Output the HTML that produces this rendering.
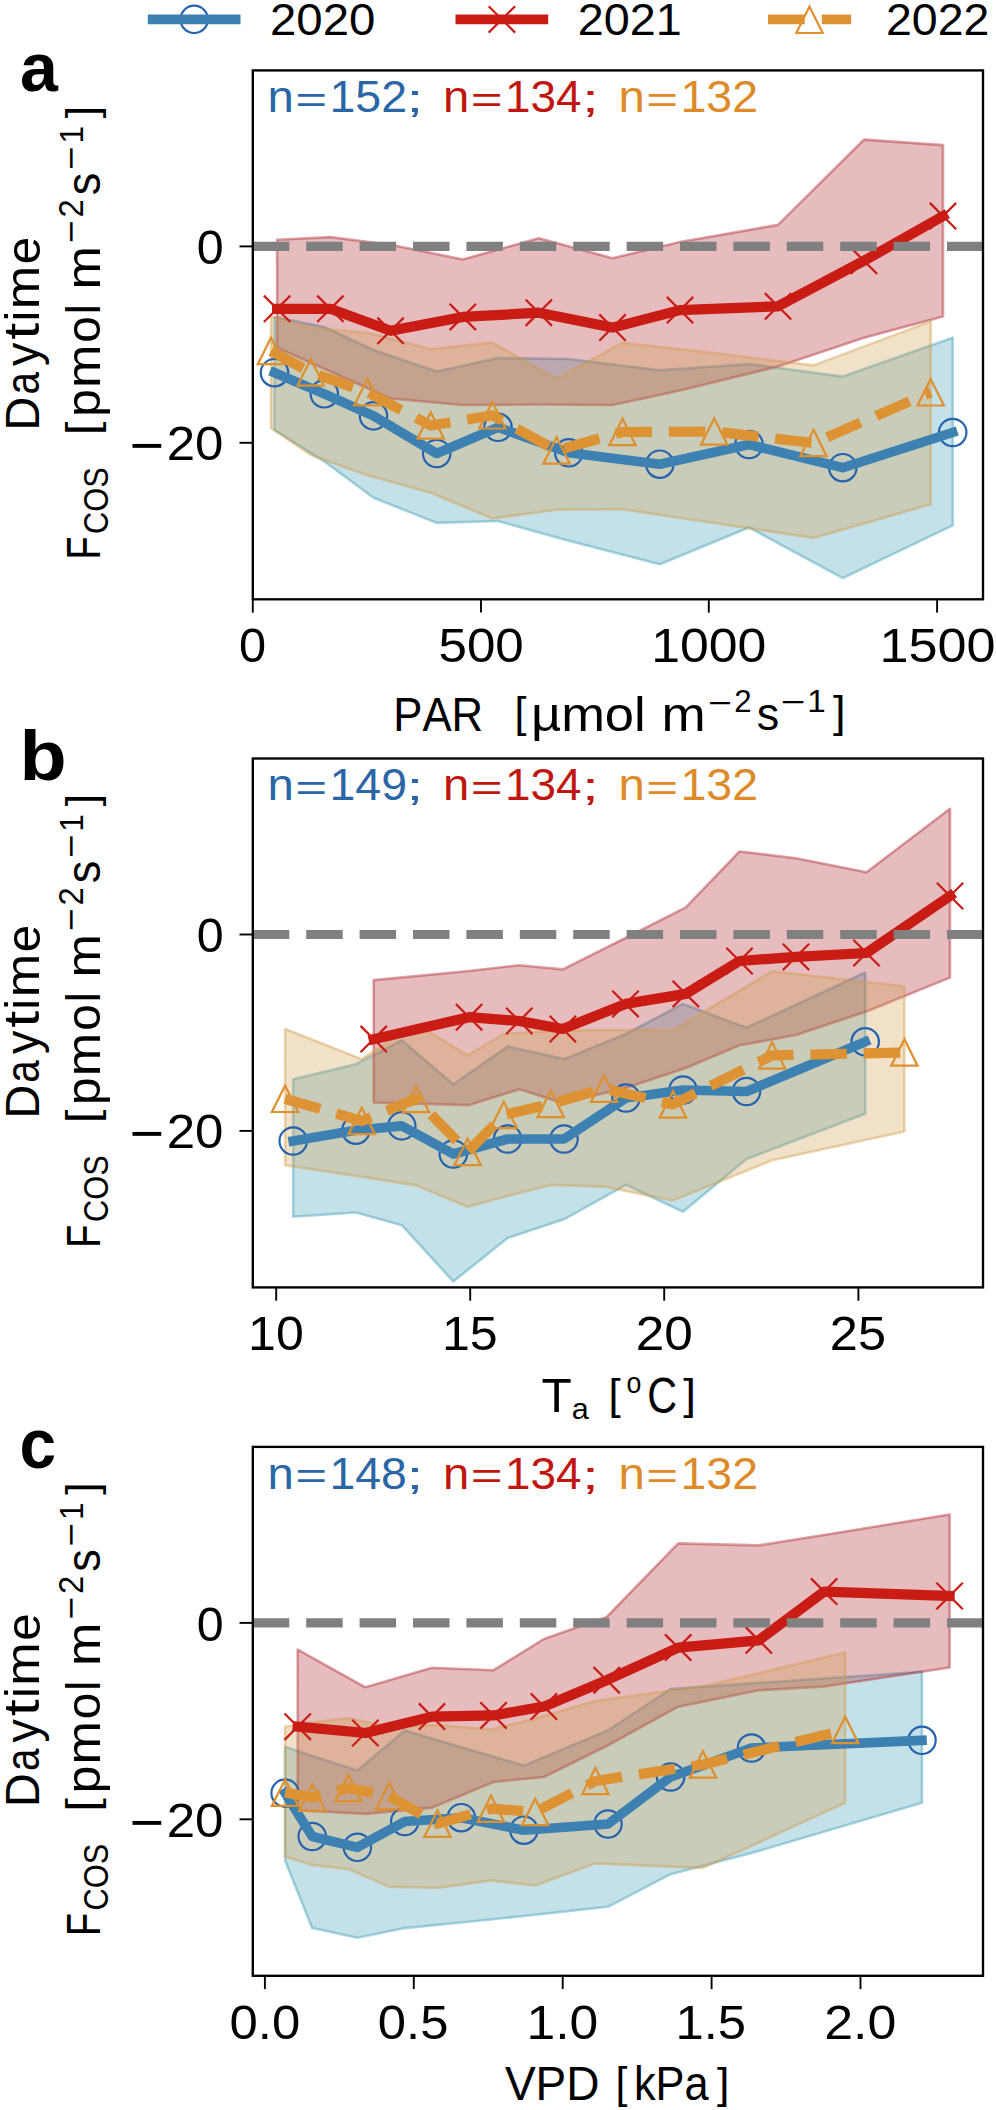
<!DOCTYPE html><html><head><meta charset="utf-8"><style>html,body{margin:0;padding:0;background:#fff;}svg{display:block;}text{font-family:"Liberation Sans",sans-serif;font-kerning:none;}</style></head><body>
<svg width="996" height="2110" viewBox="0 0 996 2110">
<rect width="996" height="2110" fill="#fff"/>
<g>
<circle cx="194.2" cy="19.4" r="13.7" fill="none" stroke="#2563ae" stroke-width="2.2"/>
<line x1="152.6" y1="19.4" x2="235.7" y2="19.4" stroke="#3d80b2" stroke-width="9.6" stroke-linecap="square"/>
<path d="M488.7 6.2L515.1 32.6M488.7 32.6L515.1 6.2" stroke="#c81c14" stroke-width="2.2" fill="none"/>
<line x1="460.3" y1="19.4" x2="543.4" y2="19.4" stroke="#c81c14" stroke-width="9.6" stroke-linecap="square"/>
<path d="M809.5 6.6L796.3 33.0L822.7 33.0Z" stroke="#df8f2c" stroke-width="2.2" fill="none" stroke-linejoin="miter"/>
<line x1="768.0" y1="19.4" x2="851.1" y2="19.4" stroke="#dd9334" stroke-width="9.6" stroke-dasharray="36.7 17.1"/>
<text transform="translate(270.02 34.56) scale(0.4739 0.4477)" font-size="100.0" font-weight="normal" fill="#000">2020</text>
<text transform="translate(577.85 34.56) scale(0.4677 0.4477)" font-size="100.0" font-weight="normal" fill="#000">2021</text>
<text transform="translate(885.96 34.56) scale(0.4652 0.4477)" font-size="100.0" font-weight="normal" fill="#000">2022</text>
<text transform="translate(19.91 91.32) scale(0.6808 0.6918)" font-size="100.0" font-weight="bold" fill="#000">a</text>
<text transform="translate(19.51 779.51) scale(0.7720 0.7040)" font-size="100.0" font-weight="bold" fill="#000">b</text>
<text transform="translate(19.53 1468.02) scale(0.6581 0.6954)" font-size="100.0" font-weight="bold" fill="#000">c</text>
<clipPath id="clipa"><rect x="252.8" y="70.4" width="730.2" height="528.9"/></clipPath>
<g clip-path="url(#clipa)">
<polygon points="274.5,317.0 324.3,327.0 373.5,350.0 436.7,371.6 498.0,358.0 568.8,359.0 659.8,370.3 749.0,364.0 842.8,376.6 952.7,337.7 952.7,525.4 842.8,578.1 749.0,527.5 659.8,564.3 568.8,540.7 498.0,521.0 436.7,522.9 373.5,497.8 324.3,461.4 274.5,430.0" fill="#3a9bb6" fill-opacity="0.30" stroke="#3a9bb6" stroke-opacity="0.42" stroke-width="2.6" stroke-linejoin="round"/>
<polygon points="277.1,239.7 330.4,237.1 390.6,244.7 462.8,259.5 538.8,238.2 612.5,258.2 680.0,242.0 778.0,224.9 864.0,139.6 943.0,145.1 943.0,316.4 864.0,337.7 778.0,366.5 680.0,390.6 612.5,405.0 538.8,404.5 462.8,405.0 390.6,398.5 330.4,371.5 277.1,347.8" fill="#ac202a" fill-opacity="0.30" stroke="#ac202a" stroke-opacity="0.42" stroke-width="2.6" stroke-linejoin="round"/>
<polygon points="271.0,316.0 310.8,327.7 367.4,332.7 430.7,349.0 492.4,342.6 556.6,379.0 622.5,342.7 714.2,353.0 813.5,365.4 930.7,321.4 930.7,504.3 813.5,537.9 714.2,523.0 622.5,509.1 556.6,509.8 492.4,518.5 430.7,492.8 367.4,475.2 310.8,455.0 271.0,428.0" fill="#d29b48" fill-opacity="0.30" stroke="#d29b48" stroke-opacity="0.42" stroke-width="2.6" stroke-linejoin="round"/>
<circle cx="274.5" cy="372.7" r="13.7" fill="none" stroke="#2563ae" stroke-width="2.2"/>
<circle cx="324.3" cy="393.8" r="13.7" fill="none" stroke="#2563ae" stroke-width="2.2"/>
<circle cx="373.5" cy="415.9" r="13.7" fill="none" stroke="#2563ae" stroke-width="2.2"/>
<circle cx="436.7" cy="453.5" r="13.7" fill="none" stroke="#2563ae" stroke-width="2.2"/>
<circle cx="498.0" cy="427.3" r="13.7" fill="none" stroke="#2563ae" stroke-width="2.2"/>
<circle cx="568.8" cy="452.8" r="13.7" fill="none" stroke="#2563ae" stroke-width="2.2"/>
<circle cx="659.8" cy="464.2" r="13.7" fill="none" stroke="#2563ae" stroke-width="2.2"/>
<circle cx="749.0" cy="444.5" r="13.7" fill="none" stroke="#2563ae" stroke-width="2.2"/>
<circle cx="842.8" cy="467.7" r="13.7" fill="none" stroke="#2563ae" stroke-width="2.2"/>
<circle cx="952.7" cy="432.5" r="13.7" fill="none" stroke="#2563ae" stroke-width="2.2"/>
<polyline points="274.5,372.7 324.3,393.8 373.5,415.9 436.7,453.5 498.0,427.3 568.8,452.8 659.8,464.2 749.0,444.5 842.8,467.7 952.7,432.5" fill="none" stroke="#3d80b2" stroke-width="9.6" stroke-linecap="square" stroke-linejoin="round"/>
<path d="M263.9 295.6L290.3 322.0M263.9 322.0L290.3 295.6" stroke="#c81c14" stroke-width="2.2" fill="none"/>
<path d="M317.2 295.6L343.6 322.0M317.2 322.0L343.6 295.6" stroke="#c81c14" stroke-width="2.2" fill="none"/>
<path d="M377.4 317.6L403.8 344.0M377.4 344.0L403.8 317.6" stroke="#c81c14" stroke-width="2.2" fill="none"/>
<path d="M449.6 303.7L476.0 330.1M449.6 330.1L476.0 303.7" stroke="#c81c14" stroke-width="2.2" fill="none"/>
<path d="M525.6 299.5L552.0 325.9M525.6 325.9L552.0 299.5" stroke="#c81c14" stroke-width="2.2" fill="none"/>
<path d="M599.3 314.4L625.7 340.8M599.3 340.8L625.7 314.4" stroke="#c81c14" stroke-width="2.2" fill="none"/>
<path d="M666.8 296.9L693.2 323.3M666.8 323.3L693.2 296.9" stroke="#c81c14" stroke-width="2.2" fill="none"/>
<path d="M764.8 293.1L791.2 319.5M764.8 319.5L791.2 293.1" stroke="#c81c14" stroke-width="2.2" fill="none"/>
<path d="M850.8 247.6L877.2 274.0M850.8 274.0L877.2 247.6" stroke="#c81c14" stroke-width="2.2" fill="none"/>
<path d="M929.8 202.9L956.2 229.3M929.8 229.3L956.2 202.9" stroke="#c81c14" stroke-width="2.2" fill="none"/>
<polyline points="277.1,308.8 330.4,308.8 390.6,330.8 462.8,316.9 538.8,312.7 612.5,327.6 680.0,310.1 778.0,306.3 864.0,260.8 943.0,216.1" fill="none" stroke="#c81c14" stroke-width="10.2" stroke-linecap="square" stroke-linejoin="round"/>
<path d="M271.0 337.8L257.8 364.2L284.2 364.2Z" stroke="#df8f2c" stroke-width="2.2" fill="none" stroke-linejoin="miter"/>
<path d="M310.8 359.2L297.6 385.6L324.0 385.6Z" stroke="#df8f2c" stroke-width="2.2" fill="none" stroke-linejoin="miter"/>
<path d="M367.4 379.0L354.2 405.4L380.6 405.4Z" stroke="#df8f2c" stroke-width="2.2" fill="none" stroke-linejoin="miter"/>
<path d="M430.7 412.3L417.5 438.7L443.9 438.7Z" stroke="#df8f2c" stroke-width="2.2" fill="none" stroke-linejoin="miter"/>
<path d="M492.4 402.1L479.2 428.5L505.6 428.5Z" stroke="#df8f2c" stroke-width="2.2" fill="none" stroke-linejoin="miter"/>
<path d="M556.6 437.3L543.4 463.7L569.8 463.7Z" stroke="#df8f2c" stroke-width="2.2" fill="none" stroke-linejoin="miter"/>
<path d="M622.5 418.8L609.3 445.2L635.7 445.2Z" stroke="#df8f2c" stroke-width="2.2" fill="none" stroke-linejoin="miter"/>
<path d="M714.2 418.3L701.0 444.7L727.4 444.7Z" stroke="#df8f2c" stroke-width="2.2" fill="none" stroke-linejoin="miter"/>
<path d="M813.5 429.8L800.3 456.2L826.7 456.2Z" stroke="#df8f2c" stroke-width="2.2" fill="none" stroke-linejoin="miter"/>
<path d="M930.7 379.1L917.5 405.5L943.9 405.5Z" stroke="#df8f2c" stroke-width="2.2" fill="none" stroke-linejoin="miter"/>
<polyline points="271.0,351.0 310.8,372.4 367.4,392.2 430.7,425.5 492.4,415.3 556.6,450.5 622.5,432.0 714.2,431.5 813.5,443.0 930.7,392.3" fill="none" stroke="#dd9334" stroke-width="10.2" stroke-dasharray="36.5 16.9" stroke-linecap="butt" stroke-linejoin="round"/>
<line x1="252.8" y1="246.40" x2="983.0" y2="246.40" stroke="#808080" stroke-width="9.2" stroke-dasharray="36.5 16.9"/>
</g>
<rect x="252.8" y="70.4" width="730.2" height="528.9" fill="none" stroke="#000" stroke-width="2.35"/>
<line x1="239.5" y1="246.40" x2="252.8" y2="246.40" stroke="#000" stroke-width="1.90"/>
<line x1="239.5" y1="442.80" x2="252.8" y2="442.80" stroke="#000" stroke-width="1.90"/>
<text transform="translate(196.71 264.23) scale(0.4832 0.4816)" font-size="100.0" font-weight="normal" fill="#000">0</text>
<text transform="translate(129.68 464.14) scale(0.5928 0.5471)" font-size="100.0" font-weight="normal" fill="#000">−</text>
<text transform="translate(166.73 460.33) scale(0.5103 0.4788)" font-size="100.0" font-weight="normal" fill="#000">20</text>
<text transform="translate(38.90 430.42) rotate(-90) scale(0.4660 0.4811)" font-size="100.0" font-weight="normal" fill="#000">D</text>
<text transform="translate(39.34 394.61) rotate(-90) scale(0.4030 0.4746)" font-size="100.0" font-weight="normal" fill="#000">a</text>
<text transform="translate(38.79 366.01) rotate(-90) scale(0.4681 0.4729)" font-size="100.0" font-weight="normal" fill="#000">y</text>
<text transform="translate(38.81 339.72) rotate(-90) scale(0.6070 0.4937)" font-size="100.0" font-weight="normal" fill="#000">t</text>
<text transform="translate(39.20 321.60) rotate(-90) scale(0.4779 0.4872)" font-size="100.0" font-weight="normal" fill="#000">i</text>
<text transform="translate(39.20 309.16) rotate(-90) scale(0.5209 0.4720)" font-size="100.0" font-weight="normal" fill="#000">m</text>
<text transform="translate(39.53 264.20) rotate(-90) scale(0.4944 0.4782)" font-size="100.0" font-weight="normal" fill="#000">e</text>
<text transform="translate(99.80 559.60) rotate(-90) scale(0.3785 0.4840)" font-size="100.0" font-weight="normal" fill="#000">F</text>
<text transform="translate(108.26 533.96) rotate(-90) scale(0.3082 0.3517)" font-size="100.0" font-weight="normal" fill="#000">COS</text>
<text transform="translate(96.77 435.18) rotate(-90) scale(0.4881 0.4399)" font-size="100.0" font-weight="normal" fill="#000">[</text>
<text transform="translate(99.70 417.04) rotate(-90) scale(0.5025 0.4724)" font-size="100.0" font-weight="normal" fill="#000">p</text>
<text transform="translate(99.90 388.06) rotate(-90) scale(0.5209 0.4758)" font-size="100.0" font-weight="normal" fill="#000">m</text>
<text transform="translate(99.93 342.71) rotate(-90) scale(0.4786 0.4819)" font-size="100.0" font-weight="normal" fill="#000">o</text>
<text transform="translate(99.90 314.19) rotate(-90) scale(0.4437 0.4830)" font-size="100.0" font-weight="normal" fill="#000">l</text>
<text transform="translate(99.90 289.46) rotate(-90) scale(0.5209 0.4758)" font-size="100.0" font-weight="normal" fill="#000">m</text>
<text transform="translate(83.31 243.13) rotate(-90) scale(0.3911 0.3507)" font-size="100.0" font-weight="normal" fill="#000">−</text>
<text transform="translate(82.60 217.44) rotate(-90) scale(0.3271 0.3452)" font-size="100.0" font-weight="normal" fill="#000">2</text>
<text transform="translate(99.93 195.26) rotate(-90) scale(0.4518 0.4795)" font-size="100.0" font-weight="normal" fill="#000">s</text>
<text transform="translate(82.91 170.20) rotate(-90) scale(0.4055 0.3507)" font-size="100.0" font-weight="normal" fill="#000">−</text>
<text transform="translate(82.60 143.62) rotate(-90) scale(0.3178 0.3387)" font-size="100.0" font-weight="normal" fill="#000">1</text>
<text transform="translate(96.54 118.25) rotate(-90) scale(0.4478 0.4366)" font-size="100.0" font-weight="normal" fill="#000">]</text>
<text transform="translate(267.46 112.30) scale(0.4732 0.4386)" font-size="100.0" font-weight="normal" fill="#2a66a6">n</text>
<text transform="translate(295.24 111.55) scale(0.5454 0.3600)" font-size="100.0" font-weight="normal" fill="#2a66a6">=</text>
<text transform="translate(329.45 112.30) scale(1.0464 1)" font-size="44.50" font-weight="normal" fill="#2a66a6">152</text>
<text transform="translate(406.22 112.21) scale(0.6215 0.3901)" font-size="100.0" font-weight="normal" fill="#2a66a6">;</text>
<text transform="translate(442.96 112.30) scale(0.4732 0.4386)" font-size="100.0" font-weight="normal" fill="#c0160f">n</text>
<text transform="translate(470.74 111.55) scale(0.5454 0.3600)" font-size="100.0" font-weight="normal" fill="#c0160f">=</text>
<text transform="translate(505.00 112.30) scale(1.0323 1)" font-size="44.50" font-weight="normal" fill="#c0160f">134</text>
<text transform="translate(581.72 112.21) scale(0.6215 0.3901)" font-size="100.0" font-weight="normal" fill="#c0160f">;</text>
<text transform="translate(618.46 112.30) scale(0.4732 0.4386)" font-size="100.0" font-weight="normal" fill="#de8a28">n</text>
<text transform="translate(646.24 111.55) scale(0.5454 0.3600)" font-size="100.0" font-weight="normal" fill="#de8a28">=</text>
<text transform="translate(680.45 112.30) scale(1.0464 1)" font-size="44.50" font-weight="normal" fill="#de8a28">132</text>
<clipPath id="clipb"><rect x="252.8" y="758.5" width="730.2" height="528.9"/></clipPath>
<g clip-path="url(#clipb)">
<polygon points="293.2,1079.2 355.9,1064.2 401.8,1040.3 453.3,1084.2 507.6,1046.6 564.0,1059.1 626.0,1034.0 683.0,1003.9 746.5,1027.8 865.2,972.5 865.2,1113.8 746.5,1159.0 683.0,1211.7 626.0,1184.9 564.0,1219.3 507.6,1238.1 453.3,1281.5 401.8,1225.2 355.9,1212.5 293.2,1216.8" fill="#3a9bb6" fill-opacity="0.30" stroke="#3a9bb6" stroke-opacity="0.42" stroke-width="2.6" stroke-linejoin="round"/>
<polygon points="373.7,980.1 469.1,971.0 519.3,965.2 562.8,969.4 625.5,938.0 685.8,907.4 739.5,851.5 796.0,858.2 866.5,872.3 950.0,808.8 950.0,977.6 866.5,1011.5 796.0,1035.0 739.5,1045.3 685.8,1068.0 625.5,1088.0 562.8,1103.1 519.3,1089.3 469.1,1105.1 373.7,1102.5" fill="#ac202a" fill-opacity="0.30" stroke="#ac202a" stroke-opacity="0.42" stroke-width="2.6" stroke-linejoin="round"/>
<polygon points="285.1,1029.0 361.7,1059.1 416.0,1024.0 467.6,1055.4 503.8,1034.0 550.7,1031.0 604.2,1030.0 673.0,1030.3 772.1,971.3 904.4,986.4 904.4,1131.4 772.1,1160.3 673.0,1200.4 604.2,1186.6 550.7,1184.9 503.8,1197.0 467.6,1206.7 416.0,1185.4 361.7,1176.6 285.1,1165.3" fill="#d29b48" fill-opacity="0.30" stroke="#d29b48" stroke-opacity="0.42" stroke-width="2.6" stroke-linejoin="round"/>
<circle cx="293.2" cy="1141.0" r="13.7" fill="none" stroke="#2563ae" stroke-width="2.2"/>
<circle cx="355.9" cy="1130.2" r="13.7" fill="none" stroke="#2563ae" stroke-width="2.2"/>
<circle cx="401.8" cy="1125.9" r="13.7" fill="none" stroke="#2563ae" stroke-width="2.2"/>
<circle cx="453.3" cy="1154.0" r="13.7" fill="none" stroke="#2563ae" stroke-width="2.2"/>
<circle cx="507.6" cy="1139.0" r="13.7" fill="none" stroke="#2563ae" stroke-width="2.2"/>
<circle cx="564.0" cy="1139.0" r="13.7" fill="none" stroke="#2563ae" stroke-width="2.2"/>
<circle cx="626.0" cy="1098.0" r="13.7" fill="none" stroke="#2563ae" stroke-width="2.2"/>
<circle cx="683.0" cy="1090.0" r="13.7" fill="none" stroke="#2563ae" stroke-width="2.2"/>
<circle cx="746.5" cy="1091.5" r="13.7" fill="none" stroke="#2563ae" stroke-width="2.2"/>
<circle cx="865.2" cy="1041.8" r="13.7" fill="none" stroke="#2563ae" stroke-width="2.2"/>
<polyline points="293.2,1141.0 355.9,1130.2 401.8,1125.9 453.3,1154.0 507.6,1139.0 564.0,1139.0 626.0,1098.0 683.0,1090.0 746.5,1091.5 865.2,1041.8" fill="none" stroke="#3d80b2" stroke-width="9.6" stroke-linecap="square" stroke-linejoin="round"/>
<path d="M360.5 1025.9L386.9 1052.3M360.5 1052.3L386.9 1025.9" stroke="#c81c14" stroke-width="2.2" fill="none"/>
<path d="M455.9 1004.0L482.3 1030.4M455.9 1030.4L482.3 1004.0" stroke="#c81c14" stroke-width="2.2" fill="none"/>
<path d="M506.1 1007.8L532.5 1034.2M506.1 1034.2L532.5 1007.8" stroke="#c81c14" stroke-width="2.2" fill="none"/>
<path d="M549.6 1015.8L576.0 1042.2M549.6 1042.2L576.0 1015.8" stroke="#c81c14" stroke-width="2.2" fill="none"/>
<path d="M612.3 990.7L638.7 1017.1M612.3 1017.1L638.7 990.7" stroke="#c81c14" stroke-width="2.2" fill="none"/>
<path d="M672.6 980.7L699.0 1007.1M672.6 1007.1L699.0 980.7" stroke="#c81c14" stroke-width="2.2" fill="none"/>
<path d="M726.3 947.8L752.7 974.2M726.3 974.2L752.7 947.8" stroke="#c81c14" stroke-width="2.2" fill="none"/>
<path d="M782.8 943.7L809.2 970.1M782.8 970.1L809.2 943.7" stroke="#c81c14" stroke-width="2.2" fill="none"/>
<path d="M853.3 939.8L879.7 966.2M853.3 966.2L879.7 939.8" stroke="#c81c14" stroke-width="2.2" fill="none"/>
<path d="M936.8 882.8L963.2 909.2M936.8 909.2L963.2 882.8" stroke="#c81c14" stroke-width="2.2" fill="none"/>
<polyline points="373.7,1039.1 469.1,1017.2 519.3,1021.0 562.8,1029.0 625.5,1003.9 685.8,993.9 739.5,961.0 796.0,956.9 866.5,953.0 950.0,896.0" fill="none" stroke="#c81c14" stroke-width="10.2" stroke-linecap="square" stroke-linejoin="round"/>
<path d="M285.1 1085.6L271.9 1112.0L298.3 1112.0Z" stroke="#df8f2c" stroke-width="2.2" fill="none" stroke-linejoin="miter"/>
<path d="M361.7 1107.8L348.5 1134.2L374.9 1134.2Z" stroke="#df8f2c" stroke-width="2.2" fill="none" stroke-linejoin="miter"/>
<path d="M416.0 1085.8L402.8 1112.2L429.2 1112.2Z" stroke="#df8f2c" stroke-width="2.2" fill="none" stroke-linejoin="miter"/>
<path d="M467.6 1138.8L454.4 1165.2L480.8 1165.2Z" stroke="#df8f2c" stroke-width="2.2" fill="none" stroke-linejoin="miter"/>
<path d="M503.8 1101.8L490.6 1128.2L517.0 1128.2Z" stroke="#df8f2c" stroke-width="2.2" fill="none" stroke-linejoin="miter"/>
<path d="M550.7 1090.8L537.5 1117.2L563.9 1117.2Z" stroke="#df8f2c" stroke-width="2.2" fill="none" stroke-linejoin="miter"/>
<path d="M604.2 1075.4L591.0 1101.8L617.4 1101.8Z" stroke="#df8f2c" stroke-width="2.2" fill="none" stroke-linejoin="miter"/>
<path d="M673.0 1091.3L659.8 1117.7L686.2 1117.7Z" stroke="#df8f2c" stroke-width="2.2" fill="none" stroke-linejoin="miter"/>
<path d="M772.1 1042.2L758.9 1068.6L785.3 1068.6Z" stroke="#df8f2c" stroke-width="2.2" fill="none" stroke-linejoin="miter"/>
<path d="M904.4 1039.3L891.2 1065.7L917.6 1065.7Z" stroke="#df8f2c" stroke-width="2.2" fill="none" stroke-linejoin="miter"/>
<polyline points="285.1,1098.8 361.7,1121.0 416.0,1099.0 467.6,1152.0 503.8,1115.0 550.7,1104.0 604.2,1088.6 673.0,1104.5 772.1,1055.4 904.4,1052.5" fill="none" stroke="#dd9334" stroke-width="10.2" stroke-dasharray="36.5 16.9" stroke-linecap="butt" stroke-linejoin="round"/>
<line x1="252.8" y1="934.50" x2="983.0" y2="934.50" stroke="#808080" stroke-width="9.2" stroke-dasharray="36.5 16.9"/>
</g>
<rect x="252.8" y="758.5" width="730.2" height="528.9" fill="none" stroke="#000" stroke-width="2.35"/>
<line x1="239.5" y1="934.50" x2="252.8" y2="934.50" stroke="#000" stroke-width="1.90"/>
<line x1="239.5" y1="1130.90" x2="252.8" y2="1130.90" stroke="#000" stroke-width="1.90"/>
<text transform="translate(196.71 952.33) scale(0.4832 0.4816)" font-size="100.0" font-weight="normal" fill="#000">0</text>
<text transform="translate(129.68 1152.24) scale(0.5928 0.5471)" font-size="100.0" font-weight="normal" fill="#000">−</text>
<text transform="translate(166.73 1148.43) scale(0.5103 0.4788)" font-size="100.0" font-weight="normal" fill="#000">20</text>
<text transform="translate(38.90 1118.52) rotate(-90) scale(0.4660 0.4811)" font-size="100.0" font-weight="normal" fill="#000">D</text>
<text transform="translate(39.34 1082.71) rotate(-90) scale(0.4030 0.4746)" font-size="100.0" font-weight="normal" fill="#000">a</text>
<text transform="translate(38.79 1054.11) rotate(-90) scale(0.4681 0.4729)" font-size="100.0" font-weight="normal" fill="#000">y</text>
<text transform="translate(38.81 1027.82) rotate(-90) scale(0.6070 0.4937)" font-size="100.0" font-weight="normal" fill="#000">t</text>
<text transform="translate(39.20 1009.70) rotate(-90) scale(0.4779 0.4872)" font-size="100.0" font-weight="normal" fill="#000">i</text>
<text transform="translate(39.20 997.26) rotate(-90) scale(0.5209 0.4720)" font-size="100.0" font-weight="normal" fill="#000">m</text>
<text transform="translate(39.53 952.30) rotate(-90) scale(0.4944 0.4782)" font-size="100.0" font-weight="normal" fill="#000">e</text>
<text transform="translate(99.80 1247.70) rotate(-90) scale(0.3785 0.4840)" font-size="100.0" font-weight="normal" fill="#000">F</text>
<text transform="translate(108.26 1222.06) rotate(-90) scale(0.3082 0.3517)" font-size="100.0" font-weight="normal" fill="#000">COS</text>
<text transform="translate(96.77 1123.28) rotate(-90) scale(0.4881 0.4399)" font-size="100.0" font-weight="normal" fill="#000">[</text>
<text transform="translate(99.70 1105.14) rotate(-90) scale(0.5025 0.4724)" font-size="100.0" font-weight="normal" fill="#000">p</text>
<text transform="translate(99.90 1076.16) rotate(-90) scale(0.5209 0.4758)" font-size="100.0" font-weight="normal" fill="#000">m</text>
<text transform="translate(99.93 1030.81) rotate(-90) scale(0.4786 0.4819)" font-size="100.0" font-weight="normal" fill="#000">o</text>
<text transform="translate(99.90 1002.29) rotate(-90) scale(0.4437 0.4830)" font-size="100.0" font-weight="normal" fill="#000">l</text>
<text transform="translate(99.90 977.56) rotate(-90) scale(0.5209 0.4758)" font-size="100.0" font-weight="normal" fill="#000">m</text>
<text transform="translate(83.31 931.23) rotate(-90) scale(0.3911 0.3507)" font-size="100.0" font-weight="normal" fill="#000">−</text>
<text transform="translate(82.60 905.54) rotate(-90) scale(0.3271 0.3452)" font-size="100.0" font-weight="normal" fill="#000">2</text>
<text transform="translate(99.93 883.36) rotate(-90) scale(0.4518 0.4795)" font-size="100.0" font-weight="normal" fill="#000">s</text>
<text transform="translate(82.91 858.30) rotate(-90) scale(0.4055 0.3507)" font-size="100.0" font-weight="normal" fill="#000">−</text>
<text transform="translate(82.60 831.72) rotate(-90) scale(0.3178 0.3387)" font-size="100.0" font-weight="normal" fill="#000">1</text>
<text transform="translate(96.54 806.35) rotate(-90) scale(0.4478 0.4366)" font-size="100.0" font-weight="normal" fill="#000">]</text>
<text transform="translate(267.46 800.40) scale(0.4732 0.4386)" font-size="100.0" font-weight="normal" fill="#2a66a6">n</text>
<text transform="translate(295.24 799.65) scale(0.5454 0.3600)" font-size="100.0" font-weight="normal" fill="#2a66a6">=</text>
<text transform="translate(329.46 800.40) scale(1.0444 1)" font-size="44.50" font-weight="normal" fill="#2a66a6">149</text>
<text transform="translate(406.22 800.31) scale(0.6215 0.3901)" font-size="100.0" font-weight="normal" fill="#2a66a6">;</text>
<text transform="translate(442.96 800.40) scale(0.4732 0.4386)" font-size="100.0" font-weight="normal" fill="#c0160f">n</text>
<text transform="translate(470.74 799.65) scale(0.5454 0.3600)" font-size="100.0" font-weight="normal" fill="#c0160f">=</text>
<text transform="translate(505.00 800.40) scale(1.0323 1)" font-size="44.50" font-weight="normal" fill="#c0160f">134</text>
<text transform="translate(581.72 800.31) scale(0.6215 0.3901)" font-size="100.0" font-weight="normal" fill="#c0160f">;</text>
<text transform="translate(618.46 800.40) scale(0.4732 0.4386)" font-size="100.0" font-weight="normal" fill="#de8a28">n</text>
<text transform="translate(646.24 799.65) scale(0.5454 0.3600)" font-size="100.0" font-weight="normal" fill="#de8a28">=</text>
<text transform="translate(680.45 800.40) scale(1.0464 1)" font-size="44.50" font-weight="normal" fill="#de8a28">132</text>
<clipPath id="clipc"><rect x="252.8" y="1446.9" width="730.2" height="528.9"/></clipPath>
<g clip-path="url(#clipc)">
<polygon points="285.1,1746.8 312.2,1756.0 357.4,1770.6 404.8,1730.4 461.3,1747.3 523.9,1765.6 608.0,1730.4 670.6,1689.0 751.5,1683.4 922.0,1671.7 922.0,1802.8 751.5,1853.1 670.6,1874.2 608.0,1906.8 523.9,1916.0 461.3,1922.5 404.8,1928.1 357.4,1937.7 312.2,1928.1 285.1,1860.4" fill="#3a9bb6" fill-opacity="0.30" stroke="#3a9bb6" stroke-opacity="0.42" stroke-width="2.6" stroke-linejoin="round"/>
<polygon points="297.7,1649.6 365.4,1687.3 432.0,1667.7 493.5,1670.2 543.9,1639.0 606.7,1617.0 678.2,1543.4 758.8,1545.4 824.1,1535.0 949.6,1514.5 949.6,1667.5 824.1,1686.5 758.8,1690.3 678.2,1706.7 606.7,1746.0 543.9,1777.0 493.5,1782.0 432.0,1807.6 365.4,1813.9 297.7,1810.2" fill="#ac202a" fill-opacity="0.30" stroke="#ac202a" stroke-opacity="0.42" stroke-width="2.6" stroke-linejoin="round"/>
<polygon points="285.1,1726.7 312.2,1722.5 348.4,1718.0 389.3,1727.0 437.5,1725.0 491.0,1729.5 535.2,1718.6 595.4,1700.8 703.0,1686.4 845.2,1652.6 845.2,1802.8 703.0,1867.9 595.4,1863.4 535.2,1885.5 491.0,1880.4 437.5,1888.0 389.3,1886.7 348.4,1869.1 312.2,1864.9 285.1,1856.6" fill="#d29b48" fill-opacity="0.30" stroke="#d29b48" stroke-opacity="0.42" stroke-width="2.6" stroke-linejoin="round"/>
<circle cx="285.1" cy="1793.1" r="13.7" fill="none" stroke="#2563ae" stroke-width="2.2"/>
<circle cx="312.2" cy="1836.5" r="13.7" fill="none" stroke="#2563ae" stroke-width="2.2"/>
<circle cx="357.4" cy="1847.3" r="13.7" fill="none" stroke="#2563ae" stroke-width="2.2"/>
<circle cx="404.8" cy="1821.5" r="13.7" fill="none" stroke="#2563ae" stroke-width="2.2"/>
<circle cx="461.3" cy="1817.7" r="13.7" fill="none" stroke="#2563ae" stroke-width="2.2"/>
<circle cx="523.9" cy="1830.2" r="13.7" fill="none" stroke="#2563ae" stroke-width="2.2"/>
<circle cx="608.0" cy="1824.0" r="13.7" fill="none" stroke="#2563ae" stroke-width="2.2"/>
<circle cx="670.6" cy="1777.0" r="13.7" fill="none" stroke="#2563ae" stroke-width="2.2"/>
<circle cx="751.5" cy="1748.0" r="13.7" fill="none" stroke="#2563ae" stroke-width="2.2"/>
<circle cx="922.0" cy="1740.3" r="13.7" fill="none" stroke="#2563ae" stroke-width="2.2"/>
<polyline points="285.1,1793.1 312.2,1836.5 357.4,1847.3 404.8,1821.5 461.3,1817.7 523.9,1830.2 608.0,1824.0 670.6,1777.0 751.5,1748.0 922.0,1740.3" fill="none" stroke="#3d80b2" stroke-width="9.6" stroke-linecap="square" stroke-linejoin="round"/>
<path d="M284.5 1713.5L310.9 1739.9M284.5 1739.9L310.9 1713.5" stroke="#c81c14" stroke-width="2.2" fill="none"/>
<path d="M352.2 1719.8L378.6 1746.2M352.2 1746.2L378.6 1719.8" stroke="#c81c14" stroke-width="2.2" fill="none"/>
<path d="M418.8 1703.4L445.2 1729.8M418.8 1729.8L445.2 1703.4" stroke="#c81c14" stroke-width="2.2" fill="none"/>
<path d="M480.3 1702.2L506.7 1728.6M480.3 1728.6L506.7 1702.2" stroke="#c81c14" stroke-width="2.2" fill="none"/>
<path d="M530.7 1693.4L557.1 1719.8M530.7 1719.8L557.1 1693.4" stroke="#c81c14" stroke-width="2.2" fill="none"/>
<path d="M593.5 1667.0L619.9 1693.4M593.5 1693.4L619.9 1667.0" stroke="#c81c14" stroke-width="2.2" fill="none"/>
<path d="M665.0 1634.4L691.4 1660.8M665.0 1660.8L691.4 1634.4" stroke="#c81c14" stroke-width="2.2" fill="none"/>
<path d="M745.6 1627.1L772.0 1653.5M745.6 1653.5L772.0 1627.1" stroke="#c81c14" stroke-width="2.2" fill="none"/>
<path d="M810.9 1578.4L837.3 1604.8M810.9 1604.8L837.3 1578.4" stroke="#c81c14" stroke-width="2.2" fill="none"/>
<path d="M936.4 1582.8L962.8 1609.2M936.4 1609.2L962.8 1582.8" stroke="#c81c14" stroke-width="2.2" fill="none"/>
<polyline points="297.7,1726.7 365.4,1733.0 432.0,1716.6 493.5,1715.4 543.9,1706.6 606.7,1680.2 678.2,1647.6 758.8,1640.3 824.1,1591.6 949.6,1596.0" fill="none" stroke="#c81c14" stroke-width="10.2" stroke-linecap="square" stroke-linejoin="round"/>
<path d="M285.1 1779.4L271.9 1805.8L298.3 1805.8Z" stroke="#df8f2c" stroke-width="2.2" fill="none" stroke-linejoin="miter"/>
<path d="M312.2 1784.4L299.0 1810.8L325.4 1810.8Z" stroke="#df8f2c" stroke-width="2.2" fill="none" stroke-linejoin="miter"/>
<path d="M348.4 1774.8L335.2 1801.2L361.6 1801.2Z" stroke="#df8f2c" stroke-width="2.2" fill="none" stroke-linejoin="miter"/>
<path d="M389.3 1782.9L376.1 1809.3L402.5 1809.3Z" stroke="#df8f2c" stroke-width="2.2" fill="none" stroke-linejoin="miter"/>
<path d="M437.5 1810.5L424.3 1836.9L450.7 1836.9Z" stroke="#df8f2c" stroke-width="2.2" fill="none" stroke-linejoin="miter"/>
<path d="M491.0 1795.5L477.8 1821.9L504.2 1821.9Z" stroke="#df8f2c" stroke-width="2.2" fill="none" stroke-linejoin="miter"/>
<path d="M535.2 1798.8L522.0 1825.2L548.4 1825.2Z" stroke="#df8f2c" stroke-width="2.2" fill="none" stroke-linejoin="miter"/>
<path d="M595.4 1767.8L582.2 1794.2L608.6 1794.2Z" stroke="#df8f2c" stroke-width="2.2" fill="none" stroke-linejoin="miter"/>
<path d="M703.0 1751.3L689.8 1777.7L716.2 1777.7Z" stroke="#df8f2c" stroke-width="2.2" fill="none" stroke-linejoin="miter"/>
<path d="M845.2 1716.8L832.0 1743.2L858.4 1743.2Z" stroke="#df8f2c" stroke-width="2.2" fill="none" stroke-linejoin="miter"/>
<polyline points="285.1,1792.6 312.2,1797.6 348.4,1788.0 389.3,1796.1 437.5,1823.7 491.0,1808.7 535.2,1812.0 595.4,1781.0 703.0,1764.5 845.2,1730.0" fill="none" stroke="#dd9334" stroke-width="10.2" stroke-dasharray="36.5 16.9" stroke-linecap="butt" stroke-linejoin="round"/>
<line x1="252.8" y1="1622.90" x2="983.0" y2="1622.90" stroke="#808080" stroke-width="9.2" stroke-dasharray="36.5 16.9"/>
</g>
<rect x="252.8" y="1446.9" width="730.2" height="528.9" fill="none" stroke="#000" stroke-width="2.35"/>
<line x1="239.5" y1="1622.90" x2="252.8" y2="1622.90" stroke="#000" stroke-width="1.90"/>
<line x1="239.5" y1="1819.30" x2="252.8" y2="1819.30" stroke="#000" stroke-width="1.90"/>
<text transform="translate(196.71 1640.73) scale(0.4832 0.4816)" font-size="100.0" font-weight="normal" fill="#000">0</text>
<text transform="translate(129.68 1840.64) scale(0.5928 0.5471)" font-size="100.0" font-weight="normal" fill="#000">−</text>
<text transform="translate(166.73 1836.83) scale(0.5103 0.4788)" font-size="100.0" font-weight="normal" fill="#000">20</text>
<text transform="translate(38.90 1806.92) rotate(-90) scale(0.4660 0.4811)" font-size="100.0" font-weight="normal" fill="#000">D</text>
<text transform="translate(39.34 1771.11) rotate(-90) scale(0.4030 0.4746)" font-size="100.0" font-weight="normal" fill="#000">a</text>
<text transform="translate(38.79 1742.51) rotate(-90) scale(0.4681 0.4729)" font-size="100.0" font-weight="normal" fill="#000">y</text>
<text transform="translate(38.81 1716.22) rotate(-90) scale(0.6070 0.4937)" font-size="100.0" font-weight="normal" fill="#000">t</text>
<text transform="translate(39.20 1698.10) rotate(-90) scale(0.4779 0.4872)" font-size="100.0" font-weight="normal" fill="#000">i</text>
<text transform="translate(39.20 1685.66) rotate(-90) scale(0.5209 0.4720)" font-size="100.0" font-weight="normal" fill="#000">m</text>
<text transform="translate(39.53 1640.70) rotate(-90) scale(0.4944 0.4782)" font-size="100.0" font-weight="normal" fill="#000">e</text>
<text transform="translate(99.80 1936.10) rotate(-90) scale(0.3785 0.4840)" font-size="100.0" font-weight="normal" fill="#000">F</text>
<text transform="translate(108.26 1910.46) rotate(-90) scale(0.3082 0.3517)" font-size="100.0" font-weight="normal" fill="#000">COS</text>
<text transform="translate(96.77 1811.68) rotate(-90) scale(0.4881 0.4399)" font-size="100.0" font-weight="normal" fill="#000">[</text>
<text transform="translate(99.70 1793.54) rotate(-90) scale(0.5025 0.4724)" font-size="100.0" font-weight="normal" fill="#000">p</text>
<text transform="translate(99.90 1764.56) rotate(-90) scale(0.5209 0.4758)" font-size="100.0" font-weight="normal" fill="#000">m</text>
<text transform="translate(99.93 1719.21) rotate(-90) scale(0.4786 0.4819)" font-size="100.0" font-weight="normal" fill="#000">o</text>
<text transform="translate(99.90 1690.69) rotate(-90) scale(0.4437 0.4830)" font-size="100.0" font-weight="normal" fill="#000">l</text>
<text transform="translate(99.90 1665.96) rotate(-90) scale(0.5209 0.4758)" font-size="100.0" font-weight="normal" fill="#000">m</text>
<text transform="translate(83.31 1619.63) rotate(-90) scale(0.3911 0.3507)" font-size="100.0" font-weight="normal" fill="#000">−</text>
<text transform="translate(82.60 1593.94) rotate(-90) scale(0.3271 0.3452)" font-size="100.0" font-weight="normal" fill="#000">2</text>
<text transform="translate(99.93 1571.76) rotate(-90) scale(0.4518 0.4795)" font-size="100.0" font-weight="normal" fill="#000">s</text>
<text transform="translate(82.91 1546.70) rotate(-90) scale(0.4055 0.3507)" font-size="100.0" font-weight="normal" fill="#000">−</text>
<text transform="translate(82.60 1520.12) rotate(-90) scale(0.3178 0.3387)" font-size="100.0" font-weight="normal" fill="#000">1</text>
<text transform="translate(96.54 1494.75) rotate(-90) scale(0.4478 0.4366)" font-size="100.0" font-weight="normal" fill="#000">]</text>
<text transform="translate(267.46 1488.80) scale(0.4732 0.4386)" font-size="100.0" font-weight="normal" fill="#2a66a6">n</text>
<text transform="translate(295.24 1488.05) scale(0.5454 0.3600)" font-size="100.0" font-weight="normal" fill="#2a66a6">=</text>
<text transform="translate(329.47 1488.80) scale(1.0417 1)" font-size="44.50" font-weight="normal" fill="#2a66a6">148</text>
<text transform="translate(406.22 1488.71) scale(0.6215 0.3901)" font-size="100.0" font-weight="normal" fill="#2a66a6">;</text>
<text transform="translate(442.96 1488.80) scale(0.4732 0.4386)" font-size="100.0" font-weight="normal" fill="#c0160f">n</text>
<text transform="translate(470.74 1488.05) scale(0.5454 0.3600)" font-size="100.0" font-weight="normal" fill="#c0160f">=</text>
<text transform="translate(505.00 1488.80) scale(1.0323 1)" font-size="44.50" font-weight="normal" fill="#c0160f">134</text>
<text transform="translate(581.72 1488.71) scale(0.6215 0.3901)" font-size="100.0" font-weight="normal" fill="#c0160f">;</text>
<text transform="translate(618.46 1488.80) scale(0.4732 0.4386)" font-size="100.0" font-weight="normal" fill="#de8a28">n</text>
<text transform="translate(646.24 1488.05) scale(0.5454 0.3600)" font-size="100.0" font-weight="normal" fill="#de8a28">=</text>
<text transform="translate(680.45 1488.80) scale(1.0464 1)" font-size="44.50" font-weight="normal" fill="#de8a28">132</text>
<line x1="252.8" y1="599.3" x2="252.8" y2="612.6" stroke="#000" stroke-width="1.90"/>
<text transform="translate(238.90 662.33) scale(0.4874 0.4816)" font-size="100.0" font-weight="normal" fill="#000">0</text>
<line x1="481.0" y1="599.3" x2="481.0" y2="612.6" stroke="#000" stroke-width="1.90"/>
<text transform="translate(438.45 662.33) scale(0.5115 0.4816)" font-size="100.0" font-weight="normal" fill="#000">500</text>
<line x1="708.8" y1="599.3" x2="708.8" y2="612.6" stroke="#000" stroke-width="1.90"/>
<text transform="translate(651.26 662.33) scale(0.5177 0.4816)" font-size="100.0" font-weight="normal" fill="#000">1000</text>
<line x1="937.1" y1="599.3" x2="937.1" y2="612.6" stroke="#000" stroke-width="1.90"/>
<text transform="translate(879.52 662.33) scale(0.5220 0.4816)" font-size="100.0" font-weight="normal" fill="#000">1500</text>
<line x1="276.2" y1="1287.4" x2="276.2" y2="1300.7" stroke="#000" stroke-width="1.90"/>
<text transform="translate(248.09 1350.43) scale(0.5005 0.4816)" font-size="100.0" font-weight="normal" fill="#000">10</text>
<line x1="470.2" y1="1287.4" x2="470.2" y2="1300.7" stroke="#000" stroke-width="1.90"/>
<text transform="translate(441.88 1350.42) scale(0.5009 0.4887)" font-size="100.0" font-weight="normal" fill="#000">15</text>
<line x1="664.2" y1="1287.4" x2="664.2" y2="1300.7" stroke="#000" stroke-width="1.90"/>
<text transform="translate(635.72 1350.43) scale(0.5132 0.4816)" font-size="100.0" font-weight="normal" fill="#000">20</text>
<line x1="858.4" y1="1287.4" x2="858.4" y2="1300.7" stroke="#000" stroke-width="1.90"/>
<text transform="translate(829.86 1350.43) scale(0.5049 0.4816)" font-size="100.0" font-weight="normal" fill="#000">25</text>
<line x1="264.9" y1="1975.8" x2="264.9" y2="1989.1" stroke="#000" stroke-width="1.90"/>
<text transform="translate(229.51 2038.83) scale(0.5091 0.4816)" font-size="100.0" font-weight="normal" fill="#000">0.0</text>
<line x1="413.8" y1="1975.8" x2="413.8" y2="1989.1" stroke="#000" stroke-width="1.90"/>
<text transform="translate(377.82 2038.83) scale(0.5080 0.4816)" font-size="100.0" font-weight="normal" fill="#000">0.5</text>
<line x1="562.7" y1="1975.8" x2="562.7" y2="1989.1" stroke="#000" stroke-width="1.90"/>
<text transform="translate(526.57 2038.83) scale(0.5161 0.4816)" font-size="100.0" font-weight="normal" fill="#000">1.0</text>
<line x1="711.6" y1="1975.8" x2="711.6" y2="1989.1" stroke="#000" stroke-width="1.90"/>
<text transform="translate(675.43 2038.82) scale(0.5079 0.4887)" font-size="100.0" font-weight="normal" fill="#000">1.5</text>
<line x1="860.5" y1="1975.8" x2="860.5" y2="1989.1" stroke="#000" stroke-width="1.90"/>
<text transform="translate(824.19 2038.83) scale(0.5189 0.4816)" font-size="100.0" font-weight="normal" fill="#000">2.0</text>
<text transform="translate(393.31 730.60) scale(0.4373 0.4724)" font-size="100.0" font-weight="normal" fill="#000">PAR</text>
<text transform="translate(514.55 727.25) scale(0.4277 0.4313)" font-size="100.0" font-weight="normal" fill="#000">[</text>
<text transform="translate(530.91 730.50) scale(1.1048 1)" font-size="47.50" font-weight="normal" fill="#000">µmol</text>
<text transform="translate(661.57 730.60) scale(0.5309 0.4739)" font-size="100.0" font-weight="normal" fill="#000">m</text>
<text transform="translate(708.18 713.68) scale(0.4096 0.3226)" font-size="100.0" font-weight="normal" fill="#000">−</text>
<text transform="translate(734.23 712.40) scale(0.3117 0.3093)" font-size="100.0" font-weight="normal" fill="#000">2</text>
<text transform="translate(756.75 730.15) scale(0.4495 0.4576)" font-size="100.0" font-weight="normal" fill="#000">s</text>
<text transform="translate(781.02 713.28) scale(0.4219 0.3226)" font-size="100.0" font-weight="normal" fill="#000">−</text>
<text transform="translate(807.37 712.40) scale(0.3317 0.3140)" font-size="100.0" font-weight="normal" fill="#000">1</text>
<text transform="translate(832.95 727.44) scale(0.4529 0.4366)" font-size="100.0" font-weight="normal" fill="#000">]</text>
<text transform="translate(541.59 1411.50) scale(0.4952 0.4724)" font-size="100.0" font-weight="normal" fill="#000">T</text>
<text transform="translate(571.70 1419.31) scale(0.3056 0.2957)" font-size="100.0" font-weight="normal" fill="#000">a</text>
<text transform="translate(608.58 1408.83) scale(0.4378 0.4323)" font-size="100.0" font-weight="normal" fill="#000">[</text>
<text transform="translate(626.48 1393.11) scale(0.2669 0.2957)" font-size="100.0" font-weight="normal" fill="#000">o</text>
<text transform="translate(647.20 1412.81) scale(0.4137 0.4986)" font-size="100.0" font-weight="normal" fill="#000">C</text>
<text transform="translate(683.24 1408.83) scale(0.4579 0.4323)" font-size="100.0" font-weight="normal" fill="#000">]</text>
<text transform="translate(504.90 2099.80) scale(0.4601 0.4768)" font-size="100.0" font-weight="normal" fill="#000">VPD</text>
<text transform="translate(615.45 2097.58) scale(0.4277 0.4345)" font-size="100.0" font-weight="normal" fill="#000">[</text>
<text transform="translate(633.88 2099.80) scale(0.9129 1)" font-size="47.50" font-weight="normal" fill="#000">kPa</text>
<text transform="translate(716.95 2097.58) scale(0.4478 0.4345)" font-size="100.0" font-weight="normal" fill="#000">]</text>
</g>
</svg></body></html>
